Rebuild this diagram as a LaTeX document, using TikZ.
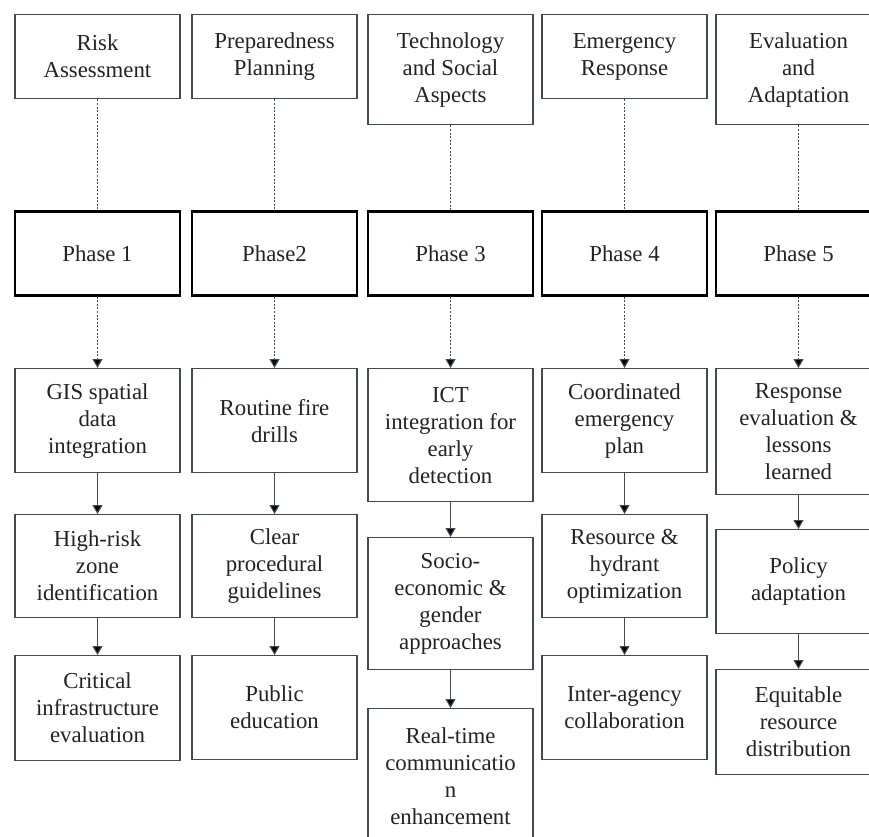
\documentclass[tikz,border=0pt]{standalone}
\usepackage{fontspec}
\setmainfont{Liberation Serif}
\usetikzlibrary{arrows.meta}
\definecolor{boxline}{RGB}{70,74,80}
\definecolor{txt}{RGB}{35,35,35}
\begin{document}
\begin{tikzpicture}[x=1pt,y=-1pt,
  box/.style={draw=boxline, line width=1.3pt, minimum width=165pt, inner sep=0pt,
    align=center, anchor=north, text=txt, font=\fontsize{22.8}{27}\selectfont},
  phasebox/.style={box, draw=black, line width=2.6pt},
  dotline/.style={draw=boxline, line width=1.1pt, dash pattern=on 2pt off 1.6pt},
  dotarrow/.style={dotline, -{Triangle[width=10pt,length=9pt,fill=black]}},
  solidarrow/.style={draw=boxline, line width=1.1pt, -{Triangle[width=10pt,length=9pt,fill=black]}}
]
\fill[white] (0,0) rectangle (869,836);
\useasboundingbox (0,0) rectangle (869,836);
% top row
\node[box, minimum height=84pt] (t1) at (97.5,14) {Risk\\Assessment};
\node[box, minimum height=84pt] (t2) at (274.5,14) {Preparedness\\Planning};
\node[box, minimum height=110pt] (t3) at (450.5,14) {Technology\\and Social\\Aspects};
\node[box, minimum height=84pt] (t4) at (624.5,14) {Emergency\\Response};
\node[box, minimum height=110pt] (t5) at (798.5,14) {Evaluation\\and\\Adaptation};
% phase row
\node[phasebox, minimum height=84pt] (p1) at (97.5,210) {Phase 1};
\node[phasebox, minimum height=84pt] (p2) at (274.5,210) {Phase2};
\node[phasebox, minimum height=84pt] (p3) at (450.5,210) {Phase 3};
\node[phasebox, minimum height=84pt] (p4) at (624.5,210) {Phase 4};
\node[phasebox, minimum height=84pt] (p5) at (798.5,210) {Phase 5};
% row 3
\node[box, minimum height=104pt] (a1) at (97.5,368) {GIS spatial\\data\\integration};
\node[box, minimum height=104pt] (a2) at (274.5,368) {Routine fire\\drills};
\node[box, minimum height=133pt] (a3) at (450.5,368) {ICT\\integration for\\early\\detection};
\node[box, minimum height=104pt] (a4) at (624.5,368) {Coordinated\\emergency\\plan};
\node[box, minimum height=126pt] (a5) at (798.5,368) {Response\\evaluation \&\\lessons\\learned};
% row 4
\node[box, minimum height=103pt] (b1) at (97.5,514) {High-risk\\zone\\identification};
\node[box, minimum height=103pt] (b2) at (274.5,514) {Clear\\procedural\\guidelines};
\node[box, minimum height=132pt] (b3) at (450.5,537) {Socio-\\economic \&\\gender\\approaches};
\node[box, minimum height=103pt] (b4) at (624.5,514) {Resource \&\\hydrant\\optimization};
\node[box, minimum height=104pt] (b5) at (798.5,529) {Policy\\adaptation};
% row 5
\node[box, minimum height=105pt] (c1) at (97.5,655) {Critical\\infrastructure\\evaluation};
\node[box, minimum height=104pt] (c2) at (274.5,655) {Public\\education};
\node[box, minimum height=136pt] (c3) at (450.5,708) {Real-time\\communicatio\\n\\enhancement};
\node[box, minimum height=104pt] (c4) at (624.5,655) {Inter-agency\\collaboration};
\node[box, minimum height=105pt] (c5) at (798.5,669) {Equitable\\resource\\distribution};
% connectors
\foreach \i in {1,...,5}{
  \draw[dotline] (t\i.south) -- (p\i.north);
  \draw[dotarrow] (p\i.south) -- (a\i.north);
  \draw[solidarrow] (a\i.south) -- (b\i.north);
  \draw[solidarrow] (b\i.south) -- (c\i.north);
}
\end{tikzpicture}
\end{document}
